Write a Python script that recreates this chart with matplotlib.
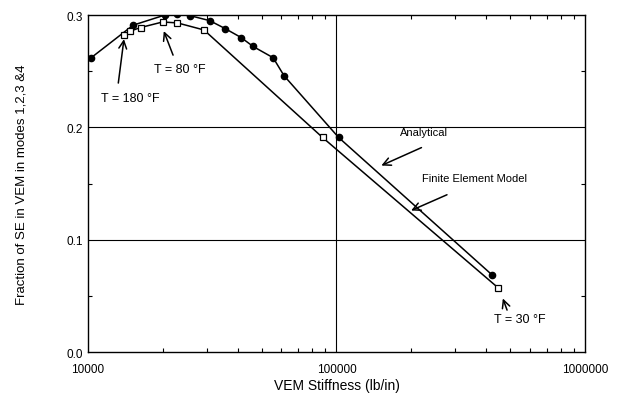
import matplotlib.pyplot as plt
from matplotlib.ticker import FixedLocator, LogLocator, NullFormatter

# Data
analytical_k = [10300, 15200, 20400, 22800, 25700, 30900, 35600, 41300, 46200, 55600, 61500, 102000, 421000]
analytical_f = [0.262, 0.291, 0.300, 0.301, 0.2995, 0.295, 0.288, 0.280, 0.272, 0.262, 0.246, 0.191, 0.069]

fem_k = [13900, 14700, 16300, 19950, 22900, 29300, 87900, 448000]
fem_f = [0.2826, 0.2855, 0.2889, 0.2938, 0.293, 0.2867, 0.191, 0.057]

x_ticks = [10000, 100000, 1000000]
x_tick_labels = ["10000", "100000", "1000000"]
y_ticks = [0.0, 0.1, 0.2, 0.3]
y_tick_labels = ["0.0", "0.1", "0.2", "0.3"]

plt.rcParams["font.family"] = ["Liberation Sans", "DejaVu Sans"]

fig = plt.figure(figsize=(6.24, 4.06), dpi=100)
ax = fig.add_axes([0.141, 0.1305, 0.7965, 0.830])

ax.plot(analytical_k, analytical_f, color="black", lw=1.1, marker="o", ms=4.5,
        mfc="black", mec="black")
ax.plot(fem_k, fem_f, color="black", lw=1.1, marker="s", ms=4.5,
        mfc="white", mec="black", mew=0.9)

ax.set_xscale("log")
ax.set_xlim(10000, 1000000)
ax.set_ylim(0.0, 0.3)

ax.set_xticks(x_ticks)
ax.set_xticklabels(x_tick_labels)
ax.xaxis.set_minor_locator(LogLocator(base=10, subs=range(2, 10)))
ax.xaxis.set_minor_formatter(NullFormatter())
ax.set_yticks(y_ticks)
ax.set_yticklabels(y_tick_labels)
ax.yaxis.set_minor_locator(FixedLocator([0.05, 0.15, 0.25]))

ax.tick_params(which="both", direction="in", top=True, right=True,
               labelsize=8.5, width=0.8)
ax.tick_params(which="major", length=0)
ax.tick_params(which="minor", length=3)
ax.tick_params(axis="x", which="major", pad=8)

# grid only at the inner major ticks
ax.axvline(100000, color="black", lw=0.8)
for yv in [0.1, 0.2]:
    ax.axhline(yv, color="black", lw=0.8)

for s in ax.spines.values():
    s.set_linewidth(1.0)

ax.set_xlabel("VEM Stiffness (lb/in)", fontsize=10, labelpad=2)
ax.set_ylabel("Fraction of SE in VEM in modes 1,2,3 &4", fontsize=9.5, labelpad=28)

arrow = dict(arrowstyle="->", color="black", lw=1.1, mutation_scale=14)

ax.text(14750, 0.226, "T = 180 °F", fontsize=9, ha="center", va="center")
ax.annotate("", xy=(14000, 0.281), xytext=(13200, 0.237), arrowprops=arrow)
ax.text(23500, 0.252, "T = 80 °F", fontsize=9, ha="center", va="center")
ax.annotate("", xy=(20000, 0.288), xytext=(22200, 0.262), arrowprops=arrow)
ax.text(225000, 0.196, "Analytical", fontsize=8, ha="center", va="center")
ax.annotate("", xy=(148000, 0.165), xytext=(225000, 0.183), arrowprops=arrow)
ax.text(360000, 0.155, "Finite Element Model", fontsize=8, ha="center", va="center")
ax.annotate("", xy=(195000, 0.125), xytext=(285000, 0.141), arrowprops=arrow)
ax.text(547000, 0.029, "T = 30 °F", fontsize=9, ha="center", va="center")
ax.annotate("", xy=(463000, 0.050), xytext=(490000, 0.035), arrowprops=arrow)

fig.savefig("out.png", dpi=100)
